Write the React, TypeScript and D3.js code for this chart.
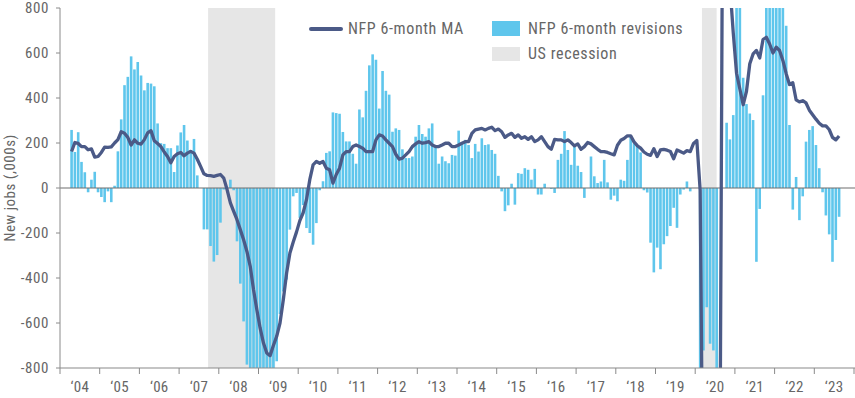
import React from 'react';
import * as d3 from 'd3';

// Monthly data, first value = April 2004 (month index 3 counted from Jan 2004)
const FIRST_MONTH_INDEX = 3;

const yearLabels = ['‘04', '‘05', '‘06', '‘07', '‘08', '‘09', '‘10', '‘11', '‘12', '‘13', '‘14', '‘15', '‘16', '‘17', '‘18', '‘19', '‘20', '‘21', '‘22', '‘23'];
const yTicks = [-800, -600, -400, -200, 0, 200, 400, 600, 800];

// NFP 6-month revisions (thousands)
const revisions = [
  258, 160, 248, 116, 70, -19, 37, 72, -19,
  -40, -63, -15, -63, 10, 163, 305, 457, 494, 585, 527, 560,
  500, 434, 467, 464, 452, 287, 199, 196, 177, 177, 71, 189,
  247, 280, 211, 169, 218, 56, 0, -184, -184, -258, -327, -298,
  -154, -7, -3, 37, -10, -237, -425, -593, -785, -850, -900, -950,
  -1000, -980, -920, -860, -830, -770, -560, -460, -407, -185, -37, -22,
  -133, -76, -178, -200, -252, -156, -10, 30, 156, 163, 336, 333,
  330, 249, 207, 207, 152, 108, 349, 314, 432, 545, 594, 570,
  353, 520, 432, 415, 250, 265, 258, 172, 133, 133, 140, 228,
  280, 240, 228, 265, 287, 184, 108, 140, 119, 110, 147, 144,
  255, 202, 214, 191, 133, 196, 162, 221, 191, 194, 169, 152,
  54, -15, -103, -77, 19, -74, 66, 63, 88, 81, 37, 85,
  -29, -29, 19, 0, -4, -22, 125, 152, 253, 169, 103, 184,
  99, 71, -44, 0, 140, 52, 22, 29, 125, 25, -52, -34,
  -59, 37, 32, 125, 228, 199, 184, 158, -10, -20, -243, -375,
  -265, -361, -250, -214, -169, -88, -177, -29, -7, 29, -15, 0,
  0, -1200, -722, -530, -692, -722, -1300, 0, 0, 290, 216, 324,
  1000, 1100, 490, 373, 331, 302, -328, -93, 412, 900, 1000, 1100,
  1050, 950, 880, 721, 280, -96, 49, -143, -37, 206, 258, 275,
  191, 88, -19, -122, -206, -328, -231, -128,
];

// NFP 6-month moving average (thousands)
const movingAverage = [
  162, 202, 198, 184, 184, 170, 174, 137, 140,
  158, 182, 181, 183, 200, 215, 250, 243, 225, 191, 214, 199,
  195, 215, 245, 255, 210, 198, 184, 160, 140, 112, 140, 152,
  158, 143, 155, 163, 155, 128, 96, 63, 56, 55, 52, 56,
  60, 44, -7, -66, -104, -141, -185, -230, -282, -348, -452, -541,
  -623, -689, -733, -745, -700, -659, -600, -497, -378, -289, -240, -195,
  -145, -110, -52, 37, 103, 118, 110, 118, 88, 81, 22, 60,
  88, 147, 162, 162, 184, 191, 184, 177, 162, 162, 162, 214,
  236, 231, 214, 199, 184, 150, 128, 133, 147, 162, 184, 196,
  206, 199, 202, 206, 191, 184, 184, 191, 199, 199, 184, 184,
  191, 199, 206, 206, 243, 258, 262, 265, 258, 265, 270, 255,
  262, 250, 225, 236, 243, 225, 236, 221, 228, 216, 228, 206,
  214, 228, 206, 184, 172, 216, 214, 214, 206, 214, 202, 187,
  196, 172, 184, 202, 196, 184, 172, 162, 162, 158, 152, 147,
  190, 212, 220, 232, 232, 205, 188, 177, 160, 150, 145, 175,
  140, 169, 172, 168, 162, 130, 169, 162, 155, 166, 162, 198,
  211, -10, -1700, -3300, -2800, -2300, -2000, -1200, 2000, 1400, 900, 690,
  510, 440, 370, 430, 552, 596, 611, 578, 660, 670, 640, 600,
  626, 611, 567, 508, 460, 468, 392, 383, 388, 378, 346, 326,
  306, 288, 276, 276, 260, 225, 214, 231,
];

// US recessions as decimal years
const recessionStarts = [2007.73, 2020.17];
const recessionEnds = [2009.42, 2020.54];

const FONT = '"Liberation Sans Narrow", "Roboto Condensed", "Arial Narrow", Roboto, sans-serif';
const TEXT = '#666666';
const AXIS = '#8a8a8a';
const BAR = '#5fc6ec';
const LINE = '#4b5a87';
const SHADE = '#e6e6e6';

export default function App() {
  const left = 60, right = 855, top = 8, bottom = 368;
  const x = d3.scaleLinear().domain([0, 240]).range([60, 854]);
  const y = d3.scaleLinear().domain([-800, 800]).range([bottom, top]);
  const y0 = y(0);

  const barData = revisions.map((v, i) => ({ m: i + FIRST_MONTH_INDEX, v }));
  const lineData = movingAverage.map((v, i) => ({ m: i + FIRST_MONTH_INDEX, v }));
  const linePath = d3.line<{ m: number; v: number }>()
    .x(d => x(d.m + 0.5))
    .y(d => y(d.v))(lineData) || '';

  const yearTicks = d3.range(0, 21);
  const bw = 2.6;

  return (
    <svg width={855} height={398} style={{ position: 'absolute', left: 0, top: 0, background: '#fff' }}
      fontFamily={FONT}>
      <defs>
        <clipPath id="plot">
          <rect x={left} y={top} width={right - left} height={bottom - top} />
        </clipPath>
      </defs>
      {/* recession shading */}
      {recessionStarts.map((s, i) => (
        <rect key={'r' + i} x={x((s - 2004) * 12)} y={top}
          width={x((recessionEnds[i] - 2004) * 12) - x((s - 2004) * 12)}
          height={bottom - top} fill={SHADE} />
      ))}
      <g clipPath="url(#plot)">
        {barData.map(d => (
          <rect key={'b' + d.m} x={x(d.m + 0.5) - bw / 2} width={bw}
            y={Math.min(y(d.v), y0)} height={Math.abs(y(d.v) - y0)} fill={BAR} />
        ))}
      </g>
      {/* zero line */}
      <line x1={left} x2={right} y1={y0} y2={y0} stroke="#6e6e6e" strokeWidth={1.2} />
      <g clipPath="url(#plot)">
        <path d={linePath} fill="none" stroke={LINE} strokeWidth={3.3} strokeLinejoin="round" />
      </g>
      {/* y axis */}
      <line x1={left} x2={left} y1={top} y2={bottom} stroke={AXIS} strokeWidth={1} />
      {yTicks.map(t => (
        <g key={'yt' + t}>
          <line x1={left - 4} x2={left} y1={y(t)} y2={y(t)} stroke={AXIS} />
          <text x={49} y={y(t)} dy="0.35em" textAnchor="end" fontSize={15} letterSpacing={0.6} fill={TEXT}>{t}</text>
        </g>
      ))}
      {/* x axis */}
      <line x1={left} x2={right} y1={bottom} y2={bottom} stroke={AXIS} strokeWidth={1.2} />
      {yearTicks.map(k => (
        <line key={'xt' + k} x1={x(12 * k)} x2={x(12 * k)} y1={bottom} y2={bottom + 6} stroke={AXIS} />
      ))}
      {yearLabels.map((lab, k) => (
        <text key={'xl' + k} x={x(12 * k + 6)} y={392} textAnchor="middle" fontSize={15} letterSpacing={0.3} fill={TEXT}>{lab}</text>
      ))}
      <text transform={`translate(15, 188) rotate(-90)`} textAnchor="middle" fontSize={15} letterSpacing={0.5} fill={TEXT}>New jobs (,000s)</text>
      {/* legend */}
      <line x1={311} x2={341} y1={29} y2={29} stroke={LINE} strokeWidth={4} strokeLinecap="round" />
      <text x={348} y={34} fontSize={16} letterSpacing={0.6} fill={TEXT}>NFP 6-month MA</text>
      <rect x={492} y={21} width={28} height={15} fill={BAR} />
      <text x={528} y={34} fontSize={16} letterSpacing={0.6} fill={TEXT}>NFP 6-month revisions</text>
      <rect x={492} y={47} width={28} height={14} fill={SHADE} />
      <text x={528} y={59} fontSize={16} letterSpacing={0.6} fill={TEXT}>US recession</text>
    </svg>
  );
}
